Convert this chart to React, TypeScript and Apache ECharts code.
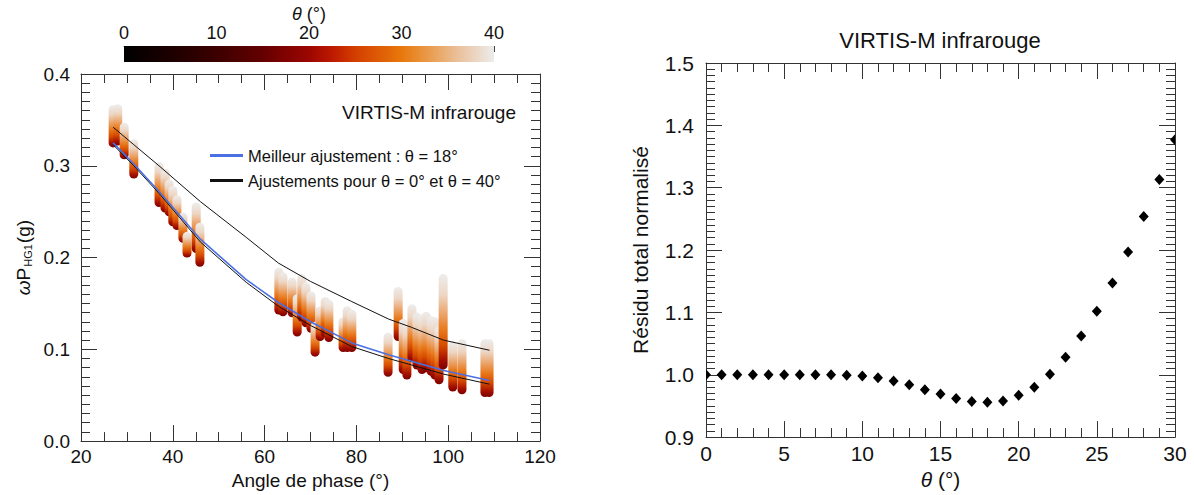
import React, { useEffect, useRef } from "react";
import * as echarts from "echarts";

// ---- Left panel: omega * P_HG1(g) columns (theta from 0 at bottom to 40 at top)
const phaseAngle = [27.0, 28.0, 29.4, 31.5, 37.0, 38.3, 39.2, 40.0, 40.9, 42.2, 43.1, 45.1, 45.9, 63.1, 64.0, 66.0, 67.1, 68.1, 69.0, 70.1, 71.0, 72.1, 73.2, 74.0, 77.1, 78.0, 79.0, 86.9, 89.1, 90.2, 91.0, 92.1, 93.2, 94.3, 95.2, 96.3, 97.1, 98.0, 98.9, 101.0, 103.0, 108.0, 108.9];
const omegaPLow = [0.320, 0.322, 0.307, 0.286, 0.255, 0.249, 0.245, 0.234, 0.230, 0.216, 0.200, 0.205, 0.190, 0.138, 0.136, 0.135, 0.114, 0.130, 0.124, 0.118, 0.092, 0.109, 0.113, 0.108, 0.097, 0.097, 0.097, 0.070, 0.109, 0.073, 0.067, 0.086, 0.078, 0.073, 0.075, 0.071, 0.067, 0.062, 0.078, 0.054, 0.051, 0.048, 0.048];
const omegaPHigh = [0.366, 0.367, 0.347, 0.329, 0.304, 0.297, 0.285, 0.278, 0.268, 0.249, 0.228, 0.260, 0.238, 0.189, 0.184, 0.178, 0.160, 0.182, 0.173, 0.163, 0.130, 0.147, 0.157, 0.154, 0.135, 0.147, 0.143, 0.118, 0.168, 0.133, 0.129, 0.149, 0.140, 0.138, 0.141, 0.136, 0.135, 0.125, 0.182, 0.109, 0.111, 0.111, 0.111];

// ---- Fits
const fitAngle = [27, 31.5, 37, 46, 56, 63, 70, 79, 87, 92, 99, 109];
const fitBest18 = [0.325, 0.302, 0.272, 0.220, 0.176, 0.151, 0.130, 0.107, 0.094, 0.087, 0.077, 0.066];
const fitTheta0 = [0.323, 0.300, 0.270, 0.217, 0.173, 0.147, 0.126, 0.103, 0.090, 0.083, 0.073, 0.062];
const fitTheta40 = [0.342, 0.323, 0.300, 0.261, 0.222, 0.194, 0.174, 0.152, 0.133, 0.124, 0.110, 0.099];

// ---- Right panel: normalized total residual vs theta
const thetaDeg = [0, 1, 2, 3, 4, 5, 6, 7, 8, 9, 10, 11, 12, 13, 14, 15, 16, 17, 18, 19, 20, 21, 22, 23, 24, 25, 26, 27, 28, 29, 30];
const residual = [1.000, 1.000, 1.000, 1.000, 1.000, 1.000, 1.000, 1.000, 1.000, 0.999, 0.998, 0.995, 0.990, 0.984, 0.976, 0.969, 0.962, 0.957, 0.956, 0.958, 0.967, 0.980, 1.001, 1.028, 1.062, 1.102, 1.147, 1.197, 1.254, 1.313, 1.377];

// ---- Colorbar range
const colorbarRange = [0, 40];

const LEG_BEST = "Meilleur ajustement : θ = 18°";
const LEG_FITS = "Ajustements pour θ = 0° et θ = 40°";

const FONT = "'Liberation Sans', Arial, Helvetica, sans-serif";
const AX = "#333333";
const TXT = "#111111";

const colormapStops = [
  { offset: 0, color: "#000000" },
  { offset: 0.125, color: "#1c0000" },
  { offset: 0.25, color: "#3c0000" },
  { offset: 0.375, color: "#640000" },
  { offset: 0.5, color: "#9c0600" },
  { offset: 0.56, color: "#bc1800" },
  { offset: 0.625, color: "#d43e00" },
  { offset: 0.75, color: "#e8780c" },
  { offset: 0.82, color: "#e99a48" },
  { offset: 0.9, color: "#eabf98" },
  { offset: 1, color: "#ececec" },
];

const columnStops = [
  { offset: 0, color: "#7a0000" },
  { offset: 0.1, color: "#a51000" },
  { offset: 0.25, color: "#d64a00" },
  { offset: 0.42, color: "#e87a1c" },
  { offset: 0.6, color: "#eba872" },
  { offset: 0.78, color: "#edd6c4" },
  { offset: 1, color: "#ededed" },
];

function frameAxis(extra: any) {
  return {
    type: "value",
    axisLine: { show: true, onZero: false, lineStyle: { color: AX, width: 1 } },
    axisTick: { show: true, inside: true, length: 16, lineStyle: { color: AX, width: 1 } },
    minorTick: { show: true, length: 9, lineStyle: { color: AX, width: 1 } },
    splitLine: { show: false },
    minorSplitLine: { show: false },
    ...extra,
  };
}

export default function App() {
  const ref = useRef<HTMLDivElement>(null);

  useEffect(() => {
    if (!ref.current) return;
    const chart = echarts.init(ref.current, undefined, { renderer: "svg" });

    const leftLabel = { fontSize: 19, color: TXT, fontFamily: FONT };
    const rightLabel = { fontSize: 21, color: TXT, fontFamily: FONT };

    const option: any = {
      animation: false,
      backgroundColor: "#ffffff",
      textStyle: { fontFamily: FONT },
      grid: [
        { left: 81, top: 74, width: 459, height: 368, containLabel: false },
        { left: 706, top: 63, width: 469, height: 378, containLabel: false },
        { left: 124, top: 46, width: 370, height: 16, containLabel: false },
      ],
      legend: {
        data: [LEG_BEST, LEG_FITS],
        orient: "vertical",
        left: 210,
        top: 147,
        padding: 0,
        itemGap: 8,
        itemWidth: 33,
        itemHeight: 3,
        icon: "rect",
        selectedMode: false,
        textStyle: { fontSize: 16.5, color: TXT, fontFamily: FONT, lineHeight: 16 },
      },
      xAxis: [
        frameAxis({
          gridIndex: 0, min: 20, max: 120, interval: 20, position: "bottom",
          minorTick: { show: true, splitNumber: 4, length: 9, lineStyle: { color: AX } },
          axisLabel: { ...leftLabel, margin: 6 },
          name: "Angle de phase (°)", nameLocation: "middle", nameGap: 23,
          nameTextStyle: { ...leftLabel },
        }),
        frameAxis({
          gridIndex: 0, min: 20, max: 120, interval: 20, position: "top",
          minorTick: { show: true, splitNumber: 4, length: 9, lineStyle: { color: AX } },
          axisLabel: { show: false },
        }),
        frameAxis({
          gridIndex: 1, min: 0, max: 30, interval: 5, position: "bottom",
          minorTick: { show: true, splitNumber: 5, length: 9, lineStyle: { color: AX } },
          axisLabel: { ...rightLabel, margin: 6 },
          name: "{i|θ} (°)", nameLocation: "middle", nameGap: 30,
          nameTextStyle: { ...rightLabel, rich: { i: { fontStyle: "italic", fontSize: 21, fontFamily: FONT, color: TXT } } },
        }),
        frameAxis({
          gridIndex: 1, min: 0, max: 30, interval: 5, position: "top",
          minorTick: { show: true, splitNumber: 5, length: 9, lineStyle: { color: AX } },
          axisLabel: { show: false },
        }),
        {
          type: "value", gridIndex: 2, min: colorbarRange[0], max: colorbarRange[1], interval: 10, position: "top",
          axisLine: { show: true, onZero: false, lineStyle: { color: "#555", width: 1 } },
          axisTick: { show: true, inside: true, length: 6, lineStyle: { color: "#444" } },
          minorTick: { show: true, splitNumber: 5, length: 3, lineStyle: { color: "#444" } },
          splitLine: { show: false },
          axisLabel: { fontSize: 18, color: TXT, fontFamily: FONT, margin: 4 },
          name: "{i|θ} (°)", nameLocation: "middle", nameGap: 20,
          nameTextStyle: { fontSize: 18, color: TXT, fontFamily: FONT, rich: { i: { fontStyle: "italic", fontSize: 18, fontFamily: FONT, color: TXT } } },
        },
      ],
      yAxis: [
        frameAxis({
          gridIndex: 0, min: 0, max: 0.4, interval: 0.1, position: "left",
          minorTick: { show: true, splitNumber: 10, length: 9, lineStyle: { color: AX } },
          axisLabel: { ...leftLabel, margin: 11, formatter: (v: number) => v.toFixed(1) },
          name: "{o|ω}P{s|HG1}(g)", nameLocation: "middle", nameGap: 48, nameRotate: 90,
          nameTextStyle: {
            ...leftLabel,
            rich: {
              o: { fontStyle: "italic", fontSize: 19, fontFamily: FONT, color: TXT },
              s: { fontSize: 11, fontFamily: FONT, color: TXT, verticalAlign: "bottom", padding: [8, 1, 0, 1] },
            },
          },
        }),
        frameAxis({
          gridIndex: 0, min: 0, max: 0.4, interval: 0.1, position: "right",
          minorTick: { show: true, splitNumber: 10, length: 9, lineStyle: { color: AX } },
          axisLabel: { show: false },
        }),
        frameAxis({
          gridIndex: 1, min: 0.9, max: 1.5, interval: 0.1, position: "left",
          minorTick: { show: true, splitNumber: 10, length: 9, lineStyle: { color: AX } },
          axisLabel: { ...rightLabel, margin: 12, formatter: (v: number) => v.toFixed(1) },
          name: "Résidu total normalisé", nameLocation: "middle", nameGap: 55, nameRotate: 90,
          nameTextStyle: { ...rightLabel },
        }),
        frameAxis({
          gridIndex: 1, min: 0.9, max: 1.5, interval: 0.1, position: "right",
          minorTick: { show: true, splitNumber: 10, length: 9, lineStyle: { color: AX } },
          axisLabel: { show: false },
        }),
        { type: "value", gridIndex: 2, min: 0, max: 1, show: false },
      ],
      graphic: [
        {
          type: "text", x: 516, y: 112, z: 10,
          style: { text: "VIRTIS-M infrarouge", align: "right", verticalAlign: "middle", fontSize: 19, fontFamily: FONT, fill: TXT },
        },
        {
          type: "text", x: 940, y: 40, z: 10,
          style: { text: "VIRTIS-M infrarouge", align: "center", verticalAlign: "middle", fontSize: 22, fontFamily: FONT, fill: TXT },
        },
      ],
      series: [
        {
          type: "custom",
          name: "columns",
          xAxisIndex: 0,
          yAxisIndex: 0,
          z: 2,
          clip: true,
          encode: { x: 0, y: [1, 2] },
          data: phaseAngle.map((a, i) => [a, omegaPLow[i], omegaPHigh[i]]),
          renderItem: (params: any, api: any) => {
            const a = api.value(0);
            const pLo = api.coord([a, api.value(1)]);
            const pHi = api.coord([a, api.value(2)]);
            const w = 9;
            return {
              type: "rect",
              shape: { x: pLo[0] - w / 2, y: pHi[1], width: w, height: pLo[1] - pHi[1], r: w / 2 },
              style: { fill: new echarts.graphic.LinearGradient(0, 1, 0, 0, columnStops) },
            };
          },
        },
        {
          type: "line",
          name: LEG_BEST,
          xAxisIndex: 0,
          yAxisIndex: 0,
          z: 4,
          showSymbol: false,
          symbol: "none",
          color: "#4a70e4",
          itemStyle: { color: "#4a70e4" },
          lineStyle: { color: "#4a70e4", width: 1.6 },
          data: fitAngle.map((a, i) => [a, fitBest18[i]]),
        },
        {
          type: "line",
          name: LEG_FITS,
          xAxisIndex: 0,
          yAxisIndex: 0,
          z: 3,
          showSymbol: false,
          symbol: "none",
          color: "#111111",
          itemStyle: { color: "#111111" },
          lineStyle: { color: "#111111", width: 1 },
          data: fitAngle.map((a, i) => [a, fitTheta0[i]]),
        },
        {
          type: "line",
          name: LEG_FITS,
          xAxisIndex: 0,
          yAxisIndex: 0,
          z: 3,
          showSymbol: false,
          symbol: "none",
          color: "#111111",
          itemStyle: { color: "#111111" },
          lineStyle: { color: "#111111", width: 1 },
          data: fitAngle.map((a, i) => [a, fitTheta40[i]]),
        },
        {
          type: "custom",
          name: "residual",
          xAxisIndex: 2,
          yAxisIndex: 2,
          clip: true,
          z: 3,
          encode: { x: 0, y: 1 },
          data: thetaDeg.map((t, i) => [t, residual[i]]),
          renderItem: (params: any, api: any) => {
            const p = api.coord([api.value(0), api.value(1)]);
            const hw = 5;
            const hh = 5.5;
            return {
              type: "polygon",
              shape: { points: [[p[0], p[1] - hh], [p[0] + hw, p[1]], [p[0], p[1] + hh], [p[0] - hw, p[1]]] },
              style: { fill: "#000000" },
            };
          },
        },
        {
          type: "custom",
          name: "colorbar",
          xAxisIndex: 4,
          yAxisIndex: 4,
          z: 1,
          data: [[colorbarRange[0], colorbarRange[1]]],
          renderItem: (params: any, api: any) => {
            const p0 = api.coord([api.value(0), 0]);
            const p1 = api.coord([api.value(1), 1]);
            return {
              type: "rect",
              shape: { x: p0[0], y: p1[1], width: p1[0] - p0[0], height: p0[1] - p1[1] },
              style: { fill: new echarts.graphic.LinearGradient(0, 0, 1, 0, colormapStops) },
            };
          },
        },
      ],
    };

    chart.setOption(option);
    return () => chart.dispose();
  }, []);

  return (
    <div
      ref={ref}
      style={{ position: "fixed", left: 0, top: 0, width: 1194, height: 495, background: "#ffffff" }}
    />
  );
}
